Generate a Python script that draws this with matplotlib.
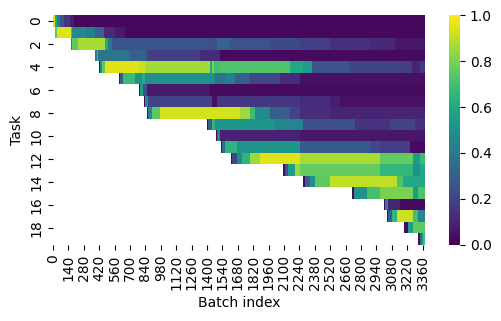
import numpy as np
import matplotlib
matplotlib.use("Agg")
import matplotlib.pyplot as plt
import seaborn as sns

# number of batches (columns) and tasks (rows)
n_batches = 3380
n_tasks = 20

# each task: list of (batch where segment starts, value); NaN before first start
task_segments = [
    [(0, 0.95), (20, 0.6), (40, 0.4), (60, 0.25), (100, 0.15), (150, 0.08), (190, 0.02)],
    [(18, 0.75), (33, 0.95), (160, 0.7), (175, 0.47), (300, 0.42), (382, 0.32), (464, 0.12), (560, 0.07), (655, 0.02)],
    [(164, 0.45), (173, 0.75), (227, 0.87), (473, 0.6), (500, 0.4), (536, 0.26), (1409, 0.24), (1491, 0.32),
     (1609, 0.25), (1973, 0.22), (2245, 0.18), (2518, 0.14), (2882, 0.11), (3109, 0.06)],
    [(382, 0.42), (400, 0.7), (412, 0.38), (700, 0.3), (854, 0.18), (1336, 0.12), (1518, 0.03)],
    [(418, 0.02), (427, 0.5), (448, 0.75), (473, 0.95), (773, 0.92), (836, 0.86), (1427, 0.6), (1450, 0.8),
     (1464, 0.7), (1518, 0.72), (2154, 0.6), (2272, 0.55), (2354, 0.25), (2700, 0.2), (3154, 0.18),
     (3263, 0.1), (3336, 0.16)],
    [(600, 0.05), (609, 0.3), (636, 0.68), (745, 0.5), (809, 0.62), (836, 0.5), (1473, 0.38), (1564, 0.42),
     (1654, 0.3), (1791, 0.2), (2063, 0.12), (2245, 0.04)],
    [(782, 0.05), (791, 0.55), (818, 0.25), (854, 0.07), (1427, 0.03)],
    [(827, 0.03), (836, 0.5), (864, 0.2), (1445, 0.04), (1491, 0.16), (2245, 0.12), (2518, 0.08), (2609, 0.04)],
    [(854, 0.03), (864, 0.45), (900, 0.75), (973, 0.93), (1700, 0.85), (1791, 0.68), (1836, 0.48), (1973, 0.3),
     (2154, 0.2), (2245, 0.13), (2518, 0.1)],
    [(1400, 0.03), (1409, 0.3), (1445, 0.65), (1473, 0.52), (2018, 0.45), (2272, 0.24), (2745, 0.15),
     (3063, 0.2), (3290, 0.14)],
    [(1482, 0.03), (1491, 0.35), (1500, 0.5), (1518, 0.09), (2245, 0.06)],
    [(1527, 0.03), (1536, 0.35), (1563, 0.65), (1672, 0.52), (2245, 0.28), (2882, 0.22), (2972, 0.18), (3245, 0.03)],
    [(1618, 0.03), (1627, 0.2), (1673, 0.45), (1718, 0.65), (1791, 0.85), (1882, 0.95), (2245, 0.87),
     (2973, 0.76), (3272, 0.55), (3336, 0.68)],
    [(2090, 0.03), (2109, 0.25), (2136, 0.55), (2200, 0.85), (2245, 0.76), (2973, 0.66), (3272, 0.5), (3336, 0.6)],
    [(2272, 0.03), (2290, 0.3), (2336, 0.5), (2381, 0.75), (2518, 0.9), (3127, 0.72), (3181, 0.6)],
    [(2718, 0.03), (2736, 0.5), (2854, 0.7), (2973, 0.8), (3272, 0.55), (3318, 0.72)],
    [(3009, 0.03), (3018, 0.45), (3045, 0.1), (3154, 0.03)],
    [(3036, 0.03), (3045, 0.3), (3081, 0.65), (3127, 0.92), (3272, 0.7), (3318, 0.45)],
    [(3190, 0.03), (3227, 0.55), (3272, 0.75)],
    [(3318, 0.03), (3336, 0.35), (3355, 0.55), (3368, 0.7)],
]

# build the matrix (piecewise constant segments)
acc = np.full((n_tasks, n_batches), np.nan)
for t, segs in enumerate(task_segments):
    for i, (start, val) in enumerate(segs):
        end = segs[i + 1][0] if i + 1 < len(segs) else n_batches
        acc[t, start:end] = val

fig = plt.figure(figsize=(5.01, 3.21), dpi=100)
ax = fig.add_axes([0.1058, 0.237, 0.742, 0.716])
cax = fig.add_axes([0.896, 0.237, 0.022, 0.716])

sns.heatmap(acc, ax=ax, cbar_ax=cax, cmap="viridis", vmin=0, vmax=1,
            xticklabels=140, yticklabels=2)
ax.set_xlabel("Batch index")
ax.set_ylabel("Task")
plt.setp(ax.get_xticklabels(), rotation=90)
plt.setp(ax.get_yticklabels(), rotation=90, va="center")

fig.savefig("out.png", dpi=100)
